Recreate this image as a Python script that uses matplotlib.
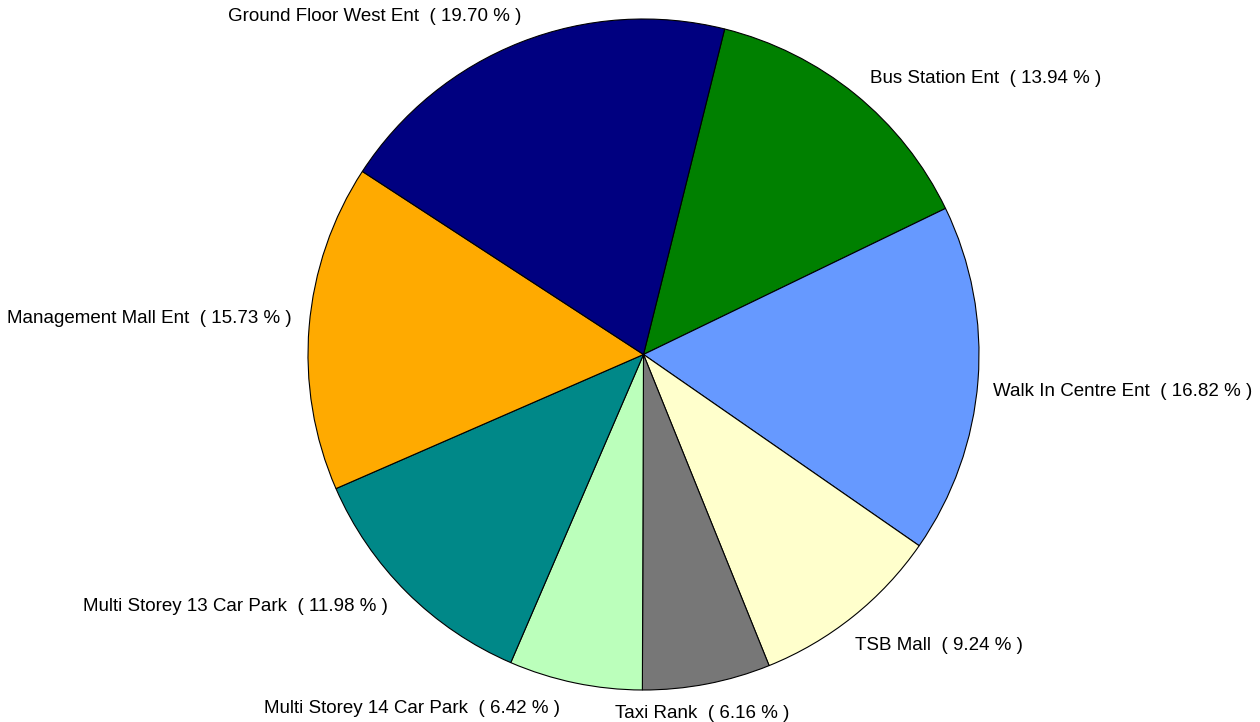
import numpy as np
import matplotlib
matplotlib.use("Agg")
import matplotlib.pyplot as plt

labels = ["Bus Station Ent", "Walk In Centre Ent", "TSB Mall", "Taxi Rank",
          "Multi Storey 14 Car Park", "Multi Storey 13 Car Park",
          "Management Mall Ent", "Ground Floor West Ent"]
percents = [13.94, 16.82, 9.24, 6.16, 6.42, 11.98, 15.73, 19.70]
colors = ["#008000", "#6699FF", "#FFFFCC", "#777777", "#BBFFBB", "#008888",
          "#FFAA00", "#000080"]

# layout tweaks for labels (pixel nudges: right, down)
label_nudge = [(0, 3), (-8, 9), (-13, 11), (-9, 6), (-10, 3), (-2, -2),
               (6, -6), (9, -4)]

plt.rcParams['font.family'] = ['Liberation Sans', 'DejaVu Sans']

W, H = 1260, 722
fig = plt.figure(figsize=(W / 100, H / 100), dpi=100)
ax = fig.add_axes([0, 0, 1, 1])

cx, cy, R = 643.5, 354.5, 335.5
start = 76.0
wedges, _ = ax.pie(percents, colors=colors, startangle=start, counterclock=False,
                   wedgeprops=dict(edgecolor='black', linewidth=0.8))

total = sum(percents)
ang = start
for lab, p, (nx, ny) in zip(labels, percents, label_nudge):
    span = p / total * 360
    mid = np.deg2rad(ang - span / 2)
    ang -= span
    c, s = np.cos(mid), np.sin(mid)
    d = 1.07
    x, y = d * c, d * s
    if c > 0.25:
        ha = 'left'
    elif c < -0.1:
        ha = 'right'
    else:
        ha = 'center'
    ax.annotate(f"{lab}  ( {p:.2f} % )", xy=(x, y), xytext=(nx * 0.72, -ny * 0.72),
                textcoords='offset points', ha=ha, va='center', fontsize=13.5)

ax.set_aspect('auto')
ax.set_xlim(-cx / R, (W - cx) / R)
ax.set_ylim(-(H - cy) / R, cy / R)
ax.axis('off')
fig.savefig("out.png", dpi=100)
